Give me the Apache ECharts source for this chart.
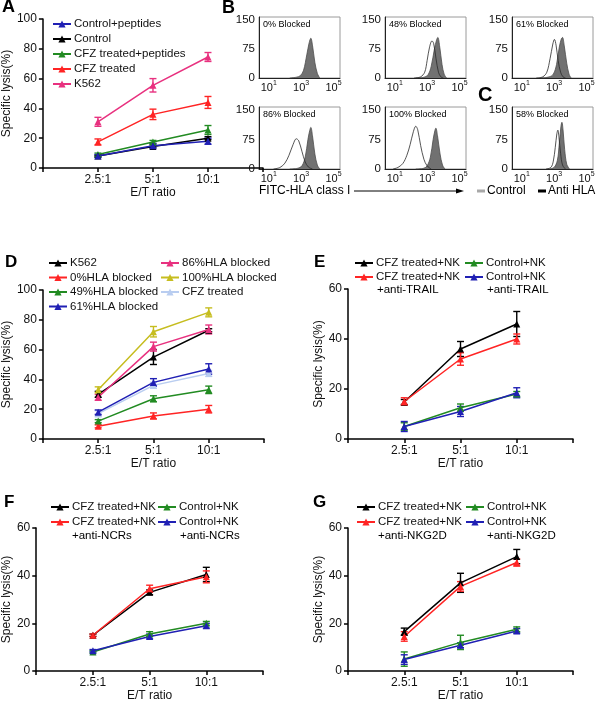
<!DOCTYPE html>
<html><head><meta charset="utf-8">
<script src="https://cdn.jsdelivr.net/npm/echarts@6/dist/echarts.min.js"></script>
<style>html,body{margin:0;padding:0;background:#fff}#c{width:600px;height:703px}</style>
</head><body><div id="c"></div>
<script>
// ---------------- DATA ----------------
const etRatios = ['', '2.5:1', '5:1', '10:1', ''];
const etPoints = ['2.5:1', '5:1', '10:1'];
const yTicks100 = [0, 20, 40, 60, 80, 100];
const yTicks60 = [0, 20, 40, 60];

// Panel A
const aControlPeptides = [8, 15, 18];      const aControlPeptidesErr = [1, 1.5, 2];
const aControl = [8, 14.5, 20];            const aControlErr = [0.6, 1, 1];
const aCfzPeptides = [9, 17.5, 25.5];      const aCfzPeptidesErr = [1, 1, 3];
const aCfz = [17.5, 36, 44];               const aCfzErr = [2, 3.5, 4];
const aK562 = [31, 55.5, 74.5];            const aK562Err = [3, 4.5, 3];

// Panel D
const dK562 = [30, 55, 73];        const dK562Err = [2, 5, 1];
const d0 = [8.5, 15.5, 20];        const d0Err = [1, 2, 2.5];
const d49 = [12, 27, 33];          const d49Err = [1, 2, 2.5];
const d61 = [18, 38, 47];          const d61Err = [1.5, 2.5, 3.5];
const d86 = [28, 62, 73.5];        const d86Err = [2, 3, 3];
const d100 = [33, 72, 85];         const d100Err = [2, 3.5, 3];
const dCfz = [17, 36, 44];         const dCfzErr = [2, 2, 2];

// Panel E
const eCfz = [14.8, 36, 46];       const eCfzErr = [1, 3, 5];
const eCfzTrail = [15, 32, 40];    const eCfzTrailErr = [1.5, 2.5, 2];
const eCtrl = [5, 12.5, 18];       const eCtrlErr = [1.5, 1.5, 1];
const eCtrlTrail = [5, 11, 18.5];  const eCtrlTrailErr = [2, 2, 2];

// Panel F
const fCfz = [15, 33, 40.5];       const fCfzErr = [0.5, 1, 3];
const fCfzNcr = [15, 34.5, 39.5];  const fCfzNcrErr = [0.5, 1.5, 2.5];
const fCtrl = [8, 15.5, 20];       const fCtrlErr = [0.5, 1, 0.8];
const fCtrlNcr = [8.5, 14.5, 19];  const fCtrlNcrErr = [0.5, 1, 1];

// Panel G
const gCfz = [16.5, 37, 48];       const gCfzErr = [1.5, 4, 3];
const gCfzNkg = [14.5, 35.5, 45.5];const gCfzNkgErr = [2, 2, 1.5];
const gCtrl = [5, 12, 17.5];       const gCtrlErr = [3, 3, 1];
const gCtrlNkg = [4.8, 10.8, 16.8];const gCtrlNkgErr = [2, 1, 1];

// Panels B/C histograms: [log10 fluorescence, count]
const histXTicks = [1, 3, 5];
const histYTicks = [0, 75, 150];
const blockedLabels = ['0% Blocked', '48% Blocked', '61% Blocked', '86% Blocked', '100% Blocked', '58% Blocked'];
const hist0Filled = [[2.3,0],[2.7,2],[2.95,6],[3.15,20],[3.35,60],[3.5,92],[3.6,103],[3.7,85],[3.85,40],[4.0,12],[4.15,0]];
const hist48Filled = [[2.3,0],[2.8,2],[3.05,8],[3.25,30],[3.45,75],[3.58,98],[3.66,105],[3.78,80],[3.92,35],[4.05,10],[4.2,0]];
const hist48Open = [[2.2,0],[2.6,3],[2.85,15],[3.0,45],[3.15,80],[3.3,96],[3.4,90],[3.55,50],[3.7,15],[3.85,3],[4.0,0]];
const hist61Filled = [[2.2,0],[2.7,3],[2.95,10],[3.15,35],[3.32,80],[3.45,102],[3.52,105],[3.62,85],[3.78,38],[3.92,10],[4.05,0]];
const hist61Open = [[1.9,0],[2.3,3],[2.55,15],[2.75,50],[2.92,88],[3.02,100],[3.12,85],[3.25,45],[3.4,15],[3.55,3],[3.7,0]];
const hist86Filled = [[2.3,0],[2.8,2],[3.05,8],[3.25,30],[3.42,75],[3.53,98],[3.6,106],[3.7,85],[3.85,38],[4.0,10],[4.15,0]];
const hist86Open = [[1.3,0],[1.7,4],[2.0,15],[2.25,35],[2.5,62],[2.7,77],[2.85,72],[3.05,45],[3.25,18],[3.45,5],[3.7,0]];
const hist100Filled = [[2.3,0],[2.8,2],[3.0,8],[3.2,30],[3.37,75],[3.48,98],[3.54,104],[3.64,85],[3.8,38],[3.95,10],[4.1,0]];
const hist100Open = [[0.9,0],[1.2,4],[1.5,14],[1.75,35],[1.95,62],[2.15,95],[2.3,109],[2.42,100],[2.6,60],[2.8,25],[3.0,8],[3.25,0]];
const hist58Filled = [[2.7,0],[3.0,4],[3.2,22],[3.32,65],[3.42,108],[3.48,119],[3.55,100],[3.65,50],[3.78,12],[3.95,0]];
const hist58Open = [[2.5,0],[2.8,4],[2.95,20],[3.07,55],[3.17,90],[3.23,99],[3.3,80],[3.4,40],[3.52,10],[3.7,0]];

// ---------------- BUILD ----------------
const FONT = 'Liberation Sans, Arial, Helvetica, sans-serif';
const TXT = '#111';
const COL = {blue:'#2020b4', black:'#000000', green:'#228b22', red:'#ff2424', magenta:'#e8317f', olive:'#c6bd1f', lightblue:'#b9cdf0'};
const grids = [], xAxes = [], yAxes = [], series = [], legends = [], graphics = [];

function lineGrid(box, ticks) {
  const g = grids.length;
  grids.push({left: box[0], top: box[1], width: box[2], height: box[3], containLabel: false});
  xAxes.push({gridIndex: g, type: 'value', min: 0, max: etRatios.length - 1, interval: 1,
    axisLine: {lineStyle: {color: '#000', width: 1.5}},
    axisTick: {length: 4, lineStyle: {color: '#000', width: 1.5}},
    axisLabel: {formatter: v => etRatios[v] || '', fontSize: 12, color: TXT, margin: 6, fontFamily: FONT},
    splitLine: {show: false},
    name: 'E/T ratio', nameLocation: 'middle', nameGap: 19,
    nameTextStyle: {fontSize: 12, color: TXT, fontFamily: FONT}});
  yAxes.push({gridIndex: g, type: 'value', min: ticks[0], max: ticks[ticks.length - 1], interval: ticks[1] - ticks[0],
    axisLine: {show: true, lineStyle: {color: '#000', width: 1.5}},
    axisTick: {show: true, length: 4, lineStyle: {color: '#000', width: 1.5}},
    axisLabel: {fontSize: 12, color: TXT, margin: 6, fontFamily: FONT},
    splitLine: {show: false},
    name: 'Specific lysis(%)', nameLocation: 'middle', nameGap: 22, nameRotate: 90,
    nameTextStyle: {fontSize: 12, color: TXT, fontFamily: FONT}});
  return g;
}

function addLine(g, key, label, color, vals, errs) {
  const name = key + '|' + label;
  const pts = vals.map((v, i) => [etRatios.indexOf(etPoints[i]), v, errs[i]]);
  series.push({type: 'line', name, xAxisIndex: g, yAxisIndex: g, data: pts.map(p => [p[0], p[1]]),
    symbol: 'triangle', symbolSize: 7, itemStyle: {color}, lineStyle: {color, width: 1.5}, z: 3, silent: true, animation: false});
  series.push({type: 'custom', xAxisIndex: g, yAxisIndex: g, data: pts, encode: {x: 0, y: 1}, z: 2, silent: true, animation: false,
    renderItem(params, api) {
      const x = api.value(0), v = api.value(1), e = api.value(2);
      const t = api.coord([x, v + e]), b = api.coord([x, v - e]);
      const w = 3.5, st = {stroke: color, lineWidth: 1.4};
      return {type: 'group', children: [
        {type: 'line', shape: {x1: t[0], y1: t[1], x2: b[0], y2: b[1]}, style: st},
        {type: 'line', shape: {x1: t[0] - w, y1: t[1], x2: t[0] + w, y2: t[1]}, style: st},
        {type: 'line', shape: {x1: b[0] - w, y1: b[1], x2: b[0] + w, y2: b[1]}, style: st}
      ]};
    }});
  return name;
}

function addLegend(names, left, top, gap) {
  legends.push({data: names, left, top, orient: 'vertical', padding: 0, itemGap: gap, itemWidth: 18, itemHeight: 9,
    selectedMode: false, formatter: n => n.split('|')[1],
    textStyle: {fontSize: 11.5, color: TXT, fontFamily: FONT, padding: [0, 0, 0, -2]}});
}

function addText(text, x, y, size, bold, align) {
  graphics.push({type: 'text', left: x, top: y, silent: true,
    style: {text, fontSize: size, fontWeight: bold ? 'bold' : 'normal', fill: '#000', fontFamily: FONT, align: align || 'left'}});
}

// Panel A
let g = lineGrid([36, 19, 227, 149], yTicks100);
const aNames = [
  addLine(g, 'A', 'K562', COL.magenta, aK562, aK562Err),
  addLine(g, 'A', 'CFZ treated', COL.red, aCfz, aCfzErr),
  addLine(g, 'A', 'CFZ treated+peptides', COL.green, aCfzPeptides, aCfzPeptidesErr),
  addLine(g, 'A', 'Control', COL.black, aControl, aControlErr),
  addLine(g, 'A', 'Control+peptides', COL.blue, aControlPeptides, aControlPeptidesErr)
];
addLegend(aNames.slice().reverse(), 52, 18, 3);

// Panel D
g = lineGrid([38, 290, 226, 149], yTicks100);
const dA = addLine(g, 'D', 'K562', COL.black, dK562, dK562Err);
const dB = addLine(g, 'D', '0%HLA blocked', COL.red, d0, d0Err);
const dC = addLine(g, 'D', '49%HLA blocked', COL.green, d49, d49Err);
const dE = addLine(g, 'D', 'CFZ treated', COL.lightblue, dCfz, dCfzErr);
const dD = addLine(g, 'D', '61%HLA blocked', COL.blue, d61, d61Err);
const dF = addLine(g, 'D', '86%HLA blocked', COL.magenta, d86, d86Err);
const dG = addLine(g, 'D', '100%HLA blocked', COL.olive, d100, d100Err);
addLegend([dA, dB, dC, dD], 48, 257, 2.5);
addLegend([dF, dG, dE], 160, 257, 2.5);

// Panel E
g = lineGrid([348, 289, 225, 150], yTicks60);
const e1 = addLine(g, 'E1', 'CFZ treated+NK', COL.black, eCfz, eCfzErr);
const e2 = addLine(g, 'E2', 'CFZ treated+NK', COL.red, eCfzTrail, eCfzTrailErr);
const e3 = addLine(g, 'E3', 'Control+NK', COL.green, eCtrl, eCtrlErr);
const e4 = addLine(g, 'E4', 'Control+NK', COL.blue, eCtrlTrail, eCtrlTrailErr);
addLegend([e1], 354, 257, 3); addLegend([e2], 354, 271, 3);
addLegend([e3], 464, 257, 3); addLegend([e4], 464, 271, 3);
addText('+anti-TRAIL', 377, 284, 11.5); addText('+anti-TRAIL', 487, 284, 11.5);

// Panel F
g = lineGrid([36, 528, 227, 149], yTicks60);
const f1 = addLine(g, 'F1', 'CFZ treated+NK', COL.black, fCfz, fCfzErr);
const f2 = addLine(g, 'F2', 'CFZ treated+NK', COL.red, fCfzNcr, fCfzNcrErr);
const f3 = addLine(g, 'F3', 'Control+NK', COL.green, fCtrl, fCtrlErr);
const f4 = addLine(g, 'F4', 'Control+NK', COL.blue, fCtrlNcr, fCtrlNcrErr);
addLegend([f1], 50, 501, 3); addLegend([f2], 50, 516, 3);
addLegend([f3], 157, 501, 3); addLegend([f4], 157, 516, 3);
addText('+anti-NCRs', 72, 530, 11.5); addText('+anti-NCRs', 180, 530, 11.5);

// Panel G
g = lineGrid([348, 528, 225, 149], yTicks60);
const g1 = addLine(g, 'G1', 'CFZ treated+NK', COL.black, gCfz, gCfzErr);
const g2 = addLine(g, 'G2', 'CFZ treated+NK', COL.red, gCfzNkg, gCfzNkgErr);
const g3 = addLine(g, 'G3', 'Control+NK', COL.green, gCtrl, gCtrlErr);
const g4 = addLine(g, 'G4', 'Control+NK', COL.blue, gCtrlNkg, gCtrlNkgErr);
addLegend([g1], 356, 501, 3); addLegend([g2], 356, 516, 3);
addLegend([g3], 465, 501, 3); addLegend([g4], 465, 516, 3);
addText('+anti-NKG2D', 378, 530, 11.5); addText('+anti-NKG2D', 487, 530, 11.5);

// Histograms (B, C)
function histGrid(box, label, filled, open) {
  const h = grids.length;
  grids.push({left: box[0], top: box[1], width: box[2], height: box[3], containLabel: false,
    show: true, borderColor: '#9a9a9a', borderWidth: 1});
  xAxes.push({gridIndex: h, type: 'value', min: 0.4, max: 5.4,
    axisLine: {lineStyle: {color: '#222', width: 1}}, axisTick: {show: false}, splitLine: {show: false},
    axisLabel: {customValues: histXTicks, formatter: v => '10{s|' + v + '}', fontSize: 11, color: TXT, margin: 2,
      lineHeight: 15, fontFamily: FONT, rich: {s: {fontSize: 7, verticalAlign: 'top', fontFamily: FONT, color: TXT}}}});
  yAxes.push({gridIndex: h, type: 'value', min: 0, max: 158,
    axisLine: {show: true, lineStyle: {color: '#222', width: 1}}, axisTick: {show: false}, splitLine: {show: false},
    axisLabel: {customValues: histYTicks, fontSize: 11.5, color: TXT, margin: 4, fontFamily: FONT}});
  series.push({type: 'line', xAxisIndex: h, yAxisIndex: h, data: filled, smooth: 0.35, symbol: 'none', silent: true, animation: false,
    lineStyle: {color: '#4d4d4d', width: 0.8}, areaStyle: {color: '#717171', opacity: 1}, z: 2});
  if (open) series.push({type: 'line', xAxisIndex: h, yAxisIndex: h, data: open, smooth: 0.35, symbol: 'none', silent: true, animation: false,
    lineStyle: {color: '#2a2a2a', width: 0.8}, z: 3});
  addText(label, box[0] + 4, box[1] + 3, 9);
}
histGrid([259, 17, 81, 61], blockedLabels[0], hist0Filled, null);
histGrid([385, 17, 81, 61], blockedLabels[1], hist48Filled, hist48Open);
histGrid([512, 17, 81, 61], blockedLabels[2], hist61Filled, hist61Open);
histGrid([259, 107, 81, 62], blockedLabels[3], hist86Filled, hist86Open);
histGrid([385, 107, 81, 62], blockedLabels[4], hist100Filled, hist100Open);
histGrid([512, 107, 81, 62], blockedLabels[5], hist58Filled, hist58Open);

// B axis caption, arrow, legend
addText('FITC-HLA class I', 259, 185, 12);
graphics.push({type: 'line', silent: true, shape: {x1: 354, y1: 191, x2: 458, y2: 191}, style: {stroke: '#000', lineWidth: 1}});
graphics.push({type: 'polygon', silent: true, shape: {points: [[464, 191], [456, 188.5], [456, 193.5]]}, style: {fill: '#000'}});
graphics.push({type: 'rect', silent: true, shape: {x: 477, y: 189.5, width: 8, height: 3}, style: {fill: '#a8a8a8'}});
addText('Control', 487, 185, 12);
graphics.push({type: 'rect', silent: true, shape: {x: 538, y: 189.5, width: 8, height: 3}, style: {fill: '#000'}});
addText('Anti HLA', 548, 185, 12);

// Panel letters
addText('A', 2, -2, 18, true);
addText('B', 222, -1, 18, true);
addText('C', 478, 85, 20, true);
addText('D', 5, 254, 17, true);
addText('E', 314, 254, 17, true);
addText('F', 4, 494, 17, true);
addText('G', 313, 494, 17, true);

const chart = echarts.init(document.getElementById('c'), null, {renderer: 'canvas', width: 600, height: 703});
chart.setOption({
  animation: false,
  backgroundColor: '#fff',
  textStyle: {fontFamily: FONT},
  grid: grids, xAxis: xAxes, yAxis: yAxes, legend: legends, series, graphic: graphics
});
</script></body></html>
